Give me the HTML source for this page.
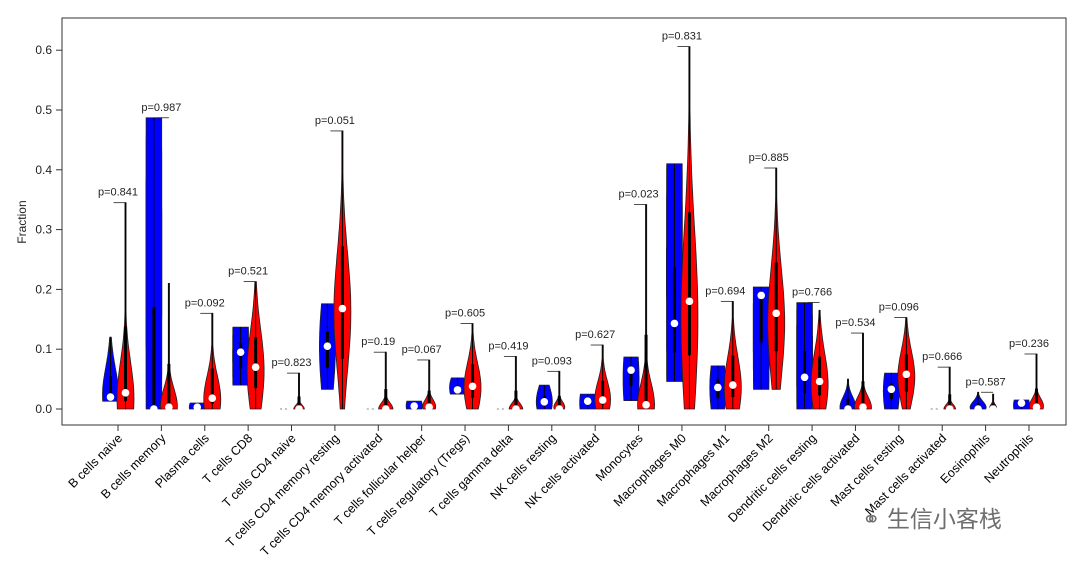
<!DOCTYPE html>
<html><head><meta charset="utf-8"><style>
body{margin:0;background:#fff}
svg{display:block;font-family:"Liberation Sans","Noto Sans CJK SC",sans-serif}
</style></head><body>
<svg id="chart" width="1080" height="562"></svg>
<script>
const categories=["B cells naive","B cells memory","Plasma cells","T cells CD8","T cells CD4 naive","T cells CD4 memory resting","T cells CD4 memory activated","T cells follicular helper","T cells regulatory (Tregs)","T cells gamma delta","NK cells resting","NK cells activated","Monocytes","Macrophages M0","Macrophages M1","Macrophages M2","Dendritic cells resting","Dendritic cells activated","Mast cells resting","Mast cells activated","Eosinophils","Neutrophils"];
const pValues=["0.841","0.987","0.092","0.521","0.823","0.051","0.19","0.067","0.605","0.419","0.093","0.627","0.023","0.831","0.694","0.885","0.766","0.534","0.096","0.666","0.587","0.236"];
const blueMin=[0.013,0,0,0.04,0,0.033,0,0,0.025,0,0,0,0.014,0.046,0,0.033,0,0,0,0,0,0];
const blueMax=[0.12,0.487,0.01,0.137,0,0.176,0,0.013,0.052,0,0.04,0.025,0.087,0.41,0.072,0.204,0.178,0.05,0.06,0,0.028,0.015];
const blueMed=[0.02,0,0.003,0.095,0,0.105,0,0.005,0.032,0,0.012,0.013,0.065,0.143,0.036,0.19,0.053,0,0.033,0,0,0.01];
const redMin=[0,0,0,0,0,0,0,0,0,0,0,0,0,0,0,0.033,0,0,0,0,0,0];
const redMax=[0.345,0.21,0.16,0.213,0.06,0.465,0.095,0.082,0.143,0.088,0.063,0.107,0.342,0.606,0.18,0.403,0.165,0.127,0.153,0.07,0.025,0.092];
const redMed=[0.027,0.003,0.018,0.07,0,0.168,0,0.003,0.038,0,0,0.015,0.007,0.18,0.04,0.16,0.046,0.003,0.058,0,0,0.003];
const bluePeak=[0.1,0.5,0.3,0.5,0,0.5,0,0.4,0.4,0,0.3,0.4,0.5,0.5,0.5,0.6,0.5,0.05,0.5,0,0.1,0.4];
const blueSpread=[0.6,3,2,3,0.3,0.9,0.3,2,1.2,0.3,1,2,1.5,3,1.2,3,3,0.5,1.2,0.3,0.5,2];
const redPeak=[0.05,0.02,0.1,0.3,0,0.35,0,0.05,0.25,0,0.05,0.15,0.02,0.25,0.2,0.3,0.25,0.02,0.35,0,0.1,0.05];
const redSpread=[0.25,0.2,0.35,0.45,0.15,0.3,0.15,0.2,0.4,0.15,0.2,0.4,0.15,0.35,0.4,0.35,0.45,0.2,0.4,0.15,0.3,0.2];
const yTicks=[0,0.1,0.2,0.3,0.4,0.5,0.6];

const NS="http://www.w3.org/2000/svg";
const svg=document.getElementById('chart');
const L=62,R=1066,T=18,B=425;
const y=v=>409-v*598;
const xc=i=>118+i*43.38;
function mk(t,a,p){const e=document.createElementNS(NS,t);for(const k in a)e.setAttribute(k,a[k]);(p||svg).appendChild(e);return e;}

const frame=mk('rect',{x:L,y:T,width:R-L,height:B-T,fill:'none',stroke:'#333','stroke-width':1});


yTicks.forEach(v=>{
  const t=mk('line',{x1:L-6,x2:L,y1:y(v),y2:y(v),stroke:'#333'});
  
  const l=mk('text',{x:L-10,y:y(v)+4,'text-anchor':'end','font-size':12,fill:'#222'});
  l.textContent=v.toFixed(1);
  
});
const yt=mk('text',{x:26,y:222,'text-anchor':'middle','font-size':12,fill:'#222',transform:'rotate(-90 26 222)'});
yt.textContent='Fraction';

function violin(cx,mn,mx,md,peak,spread,color,maxW,cap){
  const g=mk('g',{});
  if(mx-mn<=0.0005){
    mk('line',{x1:cx-4,x2:cx+4,y1:y(0),y2:y(0),stroke:'#888','stroke-dasharray':'2 3'},g);
    return g;
  }
  if(cap) maxW=Math.min(maxW,2+(mx-mn)*55);
  const n=40,pts=[],ptsL=[];
  for(let k=0;k<=n;k++){
    const t=k/n,v=mn+(mx-mn)*t;
    let w=maxW*Math.exp(-Math.pow((t-peak)/spread,2));
    w=Math.max(w,0.6);
    pts.push([cx+w,y(v)]);ptsL.push([cx-w,y(v)]);
  }
  const all=pts.concat(ptsL.reverse());
  mk('path',{d:'M'+all.map(q=>q[0].toFixed(1)+','+q[1].toFixed(1)).join('L')+'Z',fill:color,stroke:'#222','stroke-width':0.8},g);
  mk('line',{x1:cx,x2:cx,y1:y(mn),y2:y(mx),stroke:'#000','stroke-width':1},g);
  const q1=md-(md-mn)*0.5,q3=md+(mx-md)*0.35;
  mk('line',{x1:cx,x2:cx,y1:y(q1),y2:y(q3),stroke:'#000','stroke-width':3},g);
  mk('circle',{cx:cx,cy:y(md),r:3.8,fill:'#fff'},g);
  return g;
}

categories.forEach((c,i)=>{
  const cx=xc(i),bx=cx-7.5,rx=cx+7.5;
  const gb=violin(bx,blueMin[i],blueMax[i],blueMed[i],bluePeak[i],blueSpread[i],'#0000ff',8,false);
  
  const gr=violin(rx,redMin[i],redMax[i],redMed[i],redPeak[i],redSpread[i],'#ff0000',8.5,true);
  
  const top=Math.max(blueMax[i],redMax[i]);
  const br=mk('line',{x1:bx+3,x2:rx,y1:y(top),y2:y(top),stroke:'#222','stroke-width':0.8});
  
  const pt=mk('text',{x:cx,y:y(top)-7,'text-anchor':'middle','font-size':11,fill:'#222'});
  pt.textContent='p='+pValues[i];
  const tk=mk('line',{x1:cx,x2:cx,y1:B,y2:B+6,stroke:'#333'});
  
  const lx=cx+5,ly=B+14;
  const xl=mk('text',{x:lx,y:ly,'text-anchor':'end','font-size':12.5,fill:'#000',transform:`rotate(-45 ${lx} ${ly})`});
  xl.textContent=c;
});
</script>
<div style="position:absolute;left:862px;top:500px;font:23px 'Liberation Sans','Noto Sans CJK SC',sans-serif;color:#555;opacity:0.85">
<span style="font-size:22px">&#9901;</span> 生信小客栈</div>
</body></html>
